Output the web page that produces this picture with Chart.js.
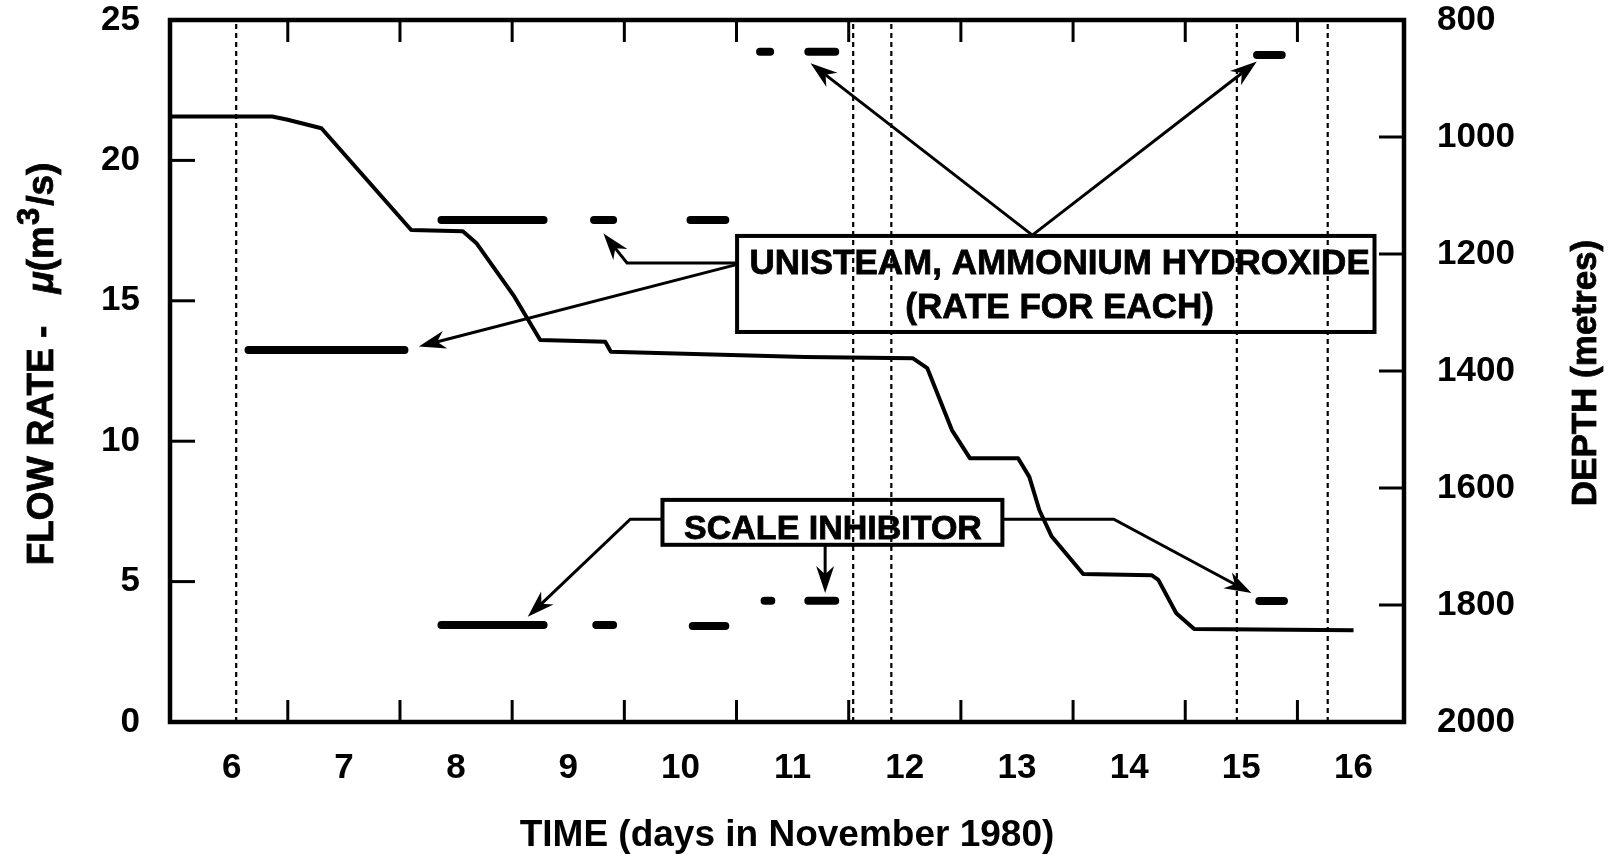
<!DOCTYPE html>
<html><head><meta charset="utf-8">
<script src="https://cdn.jsdelivr.net/npm/chart.js@4.4.1/dist/chart.umd.min.js"></script>
<style>html,body{margin:0;padding:0;background:#fff;}#wrap{width:1615px;height:855px;}</style>
</head><body><div id="wrap"><canvas id="c" width="1615" height="855"></canvas></div>
<script>
// ---- data ----
const dayTicks = [6, 7, 8, 9, 10, 11, 12, 13, 14, 15, 16];
const halfDayTicks = [6.5, 7.5, 8.5, 9.5, 10.5, 11.5, 12.5, 13.5, 14.5, 15.5];
const flowTicks = [0, 5, 10, 15, 20, 25];
const depthTicks = [800, 1000, 1200, 1400, 1600, 1800, 2000];

const depthDays   = [5.46, 6.36, 6.49, 6.80, 7.60, 8.06, 8.18, 8.52, 8.75, 9.33, 9.38, 11.11, 12.07, 12.20, 12.42, 12.58, 13.01, 13.11, 13.20, 13.31, 13.59, 14.20, 14.26, 14.42, 14.58, 16.00];
const depthMetres = [965, 965, 970, 985, 1159, 1161, 1181, 1273, 1347, 1350, 1367, 1376, 1378, 1395, 1501, 1549, 1549, 1581, 1638, 1683, 1747, 1749, 1757, 1814, 1841, 1843];

const unisteamStart = [6.15, 7.87, 9.23, 10.09, 10.71, 11.14, 15.14];
const unisteamEnd   = [7.54, 8.78, 9.40, 10.40, 10.80, 11.38, 15.36];
const unisteamRate  = [13.25, 17.88, 17.88, 17.88, 23.87, 23.87, 23.75];

const inhibitorStart = [7.87, 9.25, 10.11, 10.75, 11.14, 15.16];
const inhibitorEnd   = [8.78, 9.40, 10.40, 10.81, 11.38, 15.38];
const inhibitorRate  = [3.45, 3.45, 3.42, 4.32, 4.32, 4.31];

const markerDays = [6.04, 11.54, 11.88, 14.96, 15.77];

// ---- annotation layout (data units: day, flow) ----
const notes = {
  boxes: [
    {x0: 10.505, x1: 16.187, y0: 17.31, y1: 13.89, cx: 13.38, cy: [16.29, 14.74], size: 35,
     lines: ['UNISTEAM, AMMONIUM HYDROXIDE', '(RATE FOR EACH)']},
    {x0: 9.84, x1: 12.87, y0: 7.91, y1: 6.31, cx: 11.36, cy: [6.84], size: 34,
     lines: ['SCALE INHIBITOR']}
  ],
  arrows: [
    [[10.505, 16.35], [9.524, 16.35], [9.314, 17.40]],
    [[10.49, 16.28], [7.668, 13.37]],
    [[13.137, 17.34], [11.16, 23.46]],
    [[13.137, 17.34], [15.138, 23.52]],
    [[9.84, 7.22], [9.553, 7.22], [8.639, 3.75]],
    [[11.29, 6.31], [11.29, 4.59]],
    [[12.87, 7.22], [13.863, 7.22], [15.09, 4.59]]
  ]
};

const FONT = "'Liberation Sans', Arial, Helvetica, sans-serif";
Chart.defaults.font.family = FONT;
Chart.defaults.color = '#000';

function segData(starts, ends, vals) {
  const out = [];
  for (let i = 0; i < starts.length; i++) {
    out.push({x: starts[i], y: vals[i]}, {x: ends[i], y: vals[i]}, {x: ends[i], y: null});
  }
  return out;
}
function markerData(days) {
  const out = [];
  days.forEach(d => out.push({x: d, y: flowTicks[0]}, {x: d, y: flowTicks[flowTicks.length - 1]}, {x: d, y: null}));
  return out;
}

function line(ctx, x0, y0, x1, y1) { ctx.beginPath(); ctx.moveTo(x0, y0); ctx.lineTo(x1, y1); ctx.stroke(); }

const decor = {
  id: 'decor',
  afterDatasetsDraw(chart) {
    const {ctx, chartArea: a, scales: {x, y, yR}} = chart;
    ctx.save();
    ctx.strokeStyle = '#000'; ctx.fillStyle = '#000';
    ctx.lineCap = 'butt';
    // frame
    ctx.lineWidth = 4.5;
    ctx.strokeRect(a.left, a.top, a.right - a.left, a.bottom - a.top);
    // inward tick marks
    ctx.lineWidth = 3;
    halfDayTicks.forEach(v => {
      const px = x.getPixelForValue(v);
      line(ctx, px, a.bottom, px, a.bottom - 22);
      line(ctx, px, a.top, px, a.top + 22);
    });
    flowTicks.slice(1, -1).forEach(v => { const py = y.getPixelForValue(v); line(ctx, a.left, py, a.left + 25, py); });
    depthTicks.slice(1, -1).forEach(v => { const py = yR.getPixelForValue(v); line(ctx, a.right, py, a.right - 25, py); });

    // boxes
    notes.boxes.forEach(b => {
      const X0 = x.getPixelForValue(b.x0), X1 = x.getPixelForValue(b.x1);
      const Y0 = y.getPixelForValue(b.y0), Y1 = y.getPixelForValue(b.y1);
      ctx.lineWidth = 4;
      ctx.strokeRect(X0, Y0, X1 - X0, Y1 - Y0);
      ctx.font = 'bold ' + b.size + 'px ' + FONT;
      ctx.textAlign = 'center'; ctx.textBaseline = 'middle';
      ctx.lineWidth = 0.8;
      b.lines.forEach((t, i) => {
        const tx = x.getPixelForValue(b.cx), ty = y.getPixelForValue(b.cy[i]);
        ctx.fillText(t, tx, ty); ctx.strokeText(t, tx, ty);
      });
    });
    // arrows
    ctx.lineWidth = 3; ctx.lineJoin = 'miter';
    notes.arrows.forEach(pts => {
      const P = pts.map(p => [x.getPixelForValue(p[0]), y.getPixelForValue(p[1])]);
      const n = P.length;
      const [tx, ty] = P[n - 1], [sx, sy] = P[n - 2];
      const ang = Math.atan2(ty - sy, tx - sx);
      const len = 27, hw = 9;
      ctx.beginPath();
      ctx.moveTo(P[0][0], P[0][1]);
      for (let i = 1; i < n - 1; i++) ctx.lineTo(P[i][0], P[i][1]);
      ctx.lineTo(tx - len * 0.6 * Math.cos(ang), ty - len * 0.6 * Math.sin(ang));
      ctx.stroke();
      ctx.beginPath();
      ctx.moveTo(tx, ty);
      ctx.lineTo(tx - len * Math.cos(ang) + hw * Math.sin(ang), ty - len * Math.sin(ang) - hw * Math.cos(ang));
      ctx.lineTo(tx - len * 0.7 * Math.cos(ang), ty - len * 0.7 * Math.sin(ang));
      ctx.lineTo(tx - len * Math.cos(ang) - hw * Math.sin(ang), ty - len * Math.sin(ang) + hw * Math.cos(ang));
      ctx.closePath(); ctx.fill();
    });

    // axis titles (left & right, reading bottom to top)
    ctx.textBaseline = 'middle';
    ctx.lineWidth = 0.8;
    // left
    ctx.save();
    ctx.translate(43, 364);
    ctx.rotate(-Math.PI / 2);
    const parts = [
      {t: 'FLOW RATE -', f: 'bold 37px ' + FONT, dy: 0, after: 32},
      {t: 'μ', f: 'italic bold 37px ' + FONT, dy: 0, after: 0},
      {t: '(m', f: 'bold 37px ' + FONT, dy: 0, after: 1},
      {t: '3', f: 'bold 31px ' + FONT, dy: -13, after: 2},
      {t: '/s)', f: 'bold 37px ' + FONT, dy: 0, after: 0}
    ];
    let total = 0;
    parts.forEach(p => { ctx.font = p.f; p.w = ctx.measureText(p.t).width; total += p.w + p.after; });
    let cx = -total / 2;
    ctx.textAlign = 'left';
    parts.forEach(p => { ctx.font = p.f; ctx.fillText(p.t, cx, p.dy); ctx.strokeText(p.t, cx, p.dy); cx += p.w + p.after; });
    ctx.restore();
    // right
    ctx.save();
    ctx.translate(1586, 373);
    ctx.rotate(-Math.PI / 2);
    ctx.font = 'bold 35px ' + FONT;
    ctx.textAlign = 'center';
    ctx.fillText('DEPTH (metres)', 0, 0);
    ctx.strokeText('DEPTH (metres)', 0, 0);
    ctx.restore();

    ctx.restore();
  }
};

const tickFont = {size: 35, weight: 'bold', family: FONT};
function noPad(s) { s.paddingTop = 0; s.paddingBottom = 0; }

new Chart(document.getElementById('c'), {
  type: 'line',
  data: {
    datasets: [
      {label: 'Depth', data: depthDays.map((d, i) => ({x: d, y: depthMetres[i]})), yAxisID: 'yR',
       borderColor: '#000', borderWidth: 4, pointRadius: 0, tension: 0, borderJoinStyle: 'round', order: 1},
      {label: 'Unisteam, ammonium hydroxide', data: segData(unisteamStart, unisteamEnd, unisteamRate), yAxisID: 'y',
       borderColor: '#000', borderWidth: 8, borderCapStyle: 'round', pointRadius: 0, spanGaps: false, order: 2},
      {label: 'Scale inhibitor', data: segData(inhibitorStart, inhibitorEnd, inhibitorRate), yAxisID: 'y',
       borderColor: '#000', borderWidth: 8, borderCapStyle: 'round', pointRadius: 0, spanGaps: false, order: 3},
      {label: 'markers', data: markerData(markerDays), yAxisID: 'y',
       borderColor: '#000', borderWidth: 2.2, borderDash: [5, 4], pointRadius: 0, spanGaps: false, order: 4}
    ]
  },
  options: {
    responsive: false, animation: false, devicePixelRatio: 1,
    layout: {padding: {top: 20, left: 0, right: 0, bottom: 0}},
    plugins: {legend: {display: false}, tooltip: {enabled: false}},
    scales: {
      x: {
        type: 'linear', position: 'bottom', min: 5.45, max: 16.45,
        afterBuildTicks: s => { s.ticks = dayTicks.map(v => ({value: v})); },
        ticks: {font: tickFont, padding: 25, maxRotation: 0, autoSkip: false, callback: v => String(v)},
        grid: {display: false, drawTicks: false}, border: {display: false},
        title: {display: true, text: 'TIME (days in November 1980)', font: {size: 37, weight: 'bold', family: FONT}, padding: {top: 0, bottom: -3}},
        afterFit: s => { s.height = 855 - 722; s.paddingLeft = 0; s.paddingRight = 0; }
      },
      y: {
        type: 'linear', position: 'left', min: 0, max: 25,
        afterBuildTicks: s => { s.ticks = flowTicks.map(v => ({value: v})); },
        ticks: {font: tickFont, padding: 30, callback: v => String(v)},
        grid: {display: false, drawTicks: false}, border: {display: false},
        afterFit: s => { s.width = 170; noPad(s); }
      },
      yR: {
        type: 'linear', position: 'right', min: 800, max: 2000, reverse: true,
        afterBuildTicks: s => { s.ticks = depthTicks.map(v => ({value: v})); },
        ticks: {font: tickFont, padding: 33, callback: v => String(v)},
        grid: {display: false, drawTicks: false}, border: {display: false},
        afterFit: s => { s.width = 1615 - 1404; noPad(s); }
      }
    }
  },
  plugins: [decor]
});
</script></body></html>
